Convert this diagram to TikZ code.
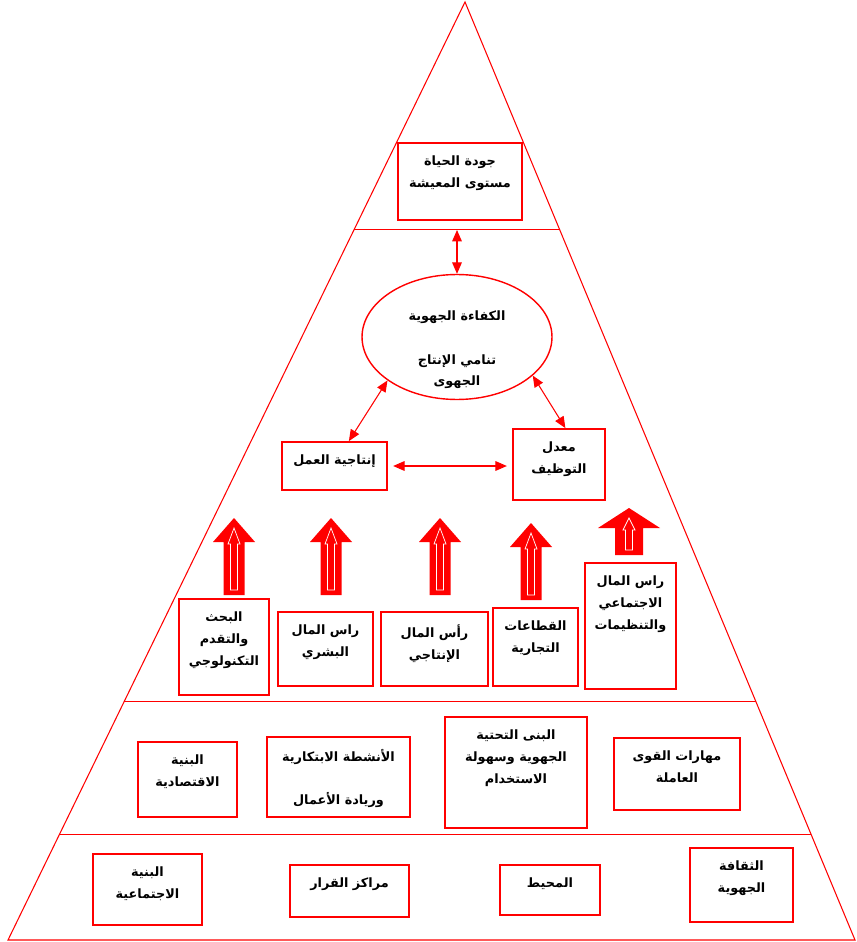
\documentclass[tikz,border=0pt]{standalone}
\usepackage{fontspec}
\newfontfamily\arabicfont[Script=Arabic]{DejaVu Sans}
\TeXXeTstate=1
\usetikzlibrary{arrows.meta,shapes.geometric,fit,calc}
\tikzset{
  box/.style={draw=red, line width=1pt, inner sep=0pt},
  txt/.style={anchor=north, yshift=-4pt, align=center,
    font=\arabicfont\bfseries\fontsize{7.3}{12.5}\selectfont},
  tri/.style={draw=red, line width=0.6pt},
  link/.style={red, line width=0.6pt, {Triangle[length=6.5pt,width=5.5pt]}-{Triangle[length=6.5pt,width=5.5pt]}}
}
\begin{document}
\begin{tikzpicture}[x=0.02cm, y=-0.02cm]
  \useasboundingbox (0,0) rectangle (857,942);
  % pyramid
  \coordinate (apex) at (465, 2);
  \coordinate (bl) at (8, 940);
  \coordinate (br) at (855, 940);
  \draw [tri] (apex) -- (bl) -- (br) -- cycle;
  \coordinate (l1) at ($(apex)!0.243!(bl)$);
  \coordinate (r1) at ($(apex)!0.243!(br)$);
  \coordinate (l2) at ($(apex)!0.746!(bl)$);
  \coordinate (r2) at ($(apex)!0.746!(br)$);
  \coordinate (l3) at ($(apex)!0.888!(bl)$);
  \coordinate (r3) at ($(apex)!0.888!(br)$);
  \draw [tri] (l1) -- (r1);
  \draw [tri] (l2) -- (r2);
  \draw [tri] (l3) -- (r3);

  % top
  \node (life) [box, fit={(398,143) (522,220)},
    label={[txt]north:{\beginR جودة الحياة\endR\\\beginR مستوى المعيشة\endR}}] {};
  \node (eff) [draw=red, line width=0.8pt, ellipse, minimum width=3.8cm, minimum height=2.5cm] at (457,337) {};
  \node (efftxt) [txt] at (457,298) {\beginR الكفاءة الجهوية\endR\\[12pt]\beginR تنامي الإنتاج\endR\\\beginR الجهوى\endR};
  \node (lab) [box, fit={(282,442) (387,490)},
    label={[txt]north:{\beginR إنتاجية العمل\endR}}] {};
  \node (emp) [box, fit={(513,429) (605,500)},
    label={[txt]north:{\beginR معدل\endR\\\beginR التوظيف\endR}}] {};
  \coordinate (mid) at (457,230);
  \draw [link] (mid) -- (eff.north);
  \draw [link] (eff.212) -- (lab.60);
  \draw [link] (eff.-27) -- (emp.80);
  \draw [link] ([xshift=3pt]lab.east) -- ([xshift=-3pt]lab.east -| emp.west);

  % block arrows
  \foreach \cx/\t/\b/\h/\hw/\sw in {234/518/595/542/21/10.5, 331/518/595/542/21/10.5,
      440/518/595/542/21/10.5, 531/523/600/547/21/10.5, 629/508/555/528/31/14} {
    \fill [red] ({\cx-\sw},\b) -- ({\cx-\sw},\h) -- ({\cx-\hw},\h) -- (\cx,\t)
      -- ({\cx+\hw},\h) -- ({\cx+\sw},\h) -- ({\cx+\sw},\b) -- cycle;
    \draw [white, line width=0.4pt] ({\cx-3.5},{\b-5}) -- ({\cx-3.5},{\h+2}) -- ({\cx-6},{\h+2})
      -- (\cx,{\t+10}) -- ({\cx+6},{\h+2}) -- ({\cx+3.5},{\h+2}) -- ({\cx+3.5},{\b-5}) -- cycle;
  }

  % level 1
  \node (rd) [box, fit={(179,599) (269,695)},
    label={[txt]north:{\beginR البحث\endR\\\beginR والتقدم\endR\\\beginR التكنولوجي\endR}}] {};
  \node (hum) [box, fit={(278,612) (373,686)},
    label={[txt]north:{\beginR راس المال\endR\\\beginR البشري\endR}}] {};
  \node (prodcap) [box, fit={(381,612) (488,686)},
    label={[txt]north:{\beginR رأس المال\endR\\\beginR الإنتاجي\endR}}] {};
  \node (trade) [box, fit={(493,608) (578,686)},
    label={[txt]north:{\beginR القطاعات\endR\\\beginR التجارية\endR}}] {};
  \node (soc) [box, fit={(585,563) (676,689)},
    label={[txt]north:{\beginR راس المال\endR\\\beginR الاجتماعي\endR\\\beginR والتنظيمات\endR}}] {};

  % level 2
  \node (econ) [box, fit={(138,742) (237,817)},
    label={[txt]north:{\beginR البنية\endR\\\beginR الاقتصادية\endR}}] {};
  \node (innov) [box, fit={(267,737) (410,817)},
    label={[txt]north:{\beginR الأنشطة الابتكارية\endR\\[12pt]\beginR وريادة الأعمال\endR}}] {};
  \node (infra) [box, fit={(445,717) (587,828)},
    label={[txt]north:{\beginR البنى التحتية\endR\\\beginR الجهوية وسهولة\endR\\\beginR الاستخدام\endR}}] {};
  \node (skill) [box, fit={(614,738) (740,810)},
    label={[txt]north:{\beginR مهارات القوى\endR\\\beginR العاملة\endR}}] {};

  % level 3
  \node (socstr) [box, fit={(93,854) (202,925)},
    label={[txt]north:{\beginR البنية\endR\\\beginR الاجتماعية\endR}}] {};
  \node (dec) [box, fit={(290,865) (409,917)},
    label={[txt]north:{\beginR مراكز القرار\endR}}] {};
  \node (env) [box, fit={(500,865) (600,915)},
    label={[txt]north:{\beginR المحيط\endR}}] {};
  \node (cult) [box, fit={(690,848) (793,922)},
    label={[txt]north:{\beginR الثقافة\endR\\\beginR الجهوية\endR}}] {};
\end{tikzpicture}
\end{document}
